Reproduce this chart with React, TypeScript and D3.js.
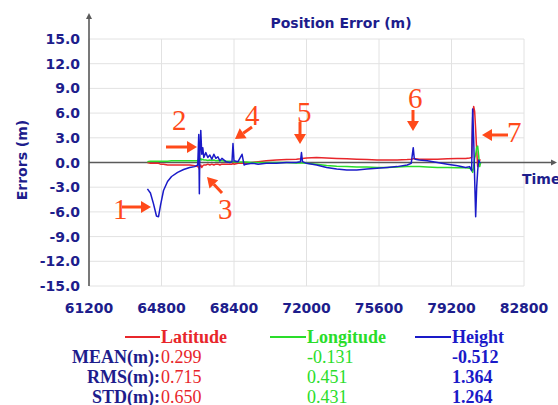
import React from 'react';
import * as d3 from 'd3';

// time of day (s) shared by the three error series
const times = [
  64100, 64250, 64400, 64550, 64650, 64750, 64900, 65100, 65300, 65600,
  65900, 66200, 66450, 66600, 66650, 66680, 66700, 66750, 66800, 66850,
  66900, 67000, 67100, 67200, 67300, 67400, 67500, 67600, 67700, 67800,
  68000, 68200, 68300, 68350, 68400, 68600, 68800, 68900, 69000, 69300,
  69600, 70000, 70500, 71000, 71500, 71700, 71750, 71800, 72000, 72500,
  73000, 73500, 74000, 74500, 75000, 75500, 76000, 76500, 77000, 77200,
  77300, 77350, 77400, 77600, 78000, 78500, 79000, 79500, 79900, 80100,
  80200, 80250, 80300, 80350, 80400, 80450, 80500, 80550, 80600, 80650,
];

const latitude = [
  0.0, -0.1, -0.1, -0.1, -0.1, -0.2, -0.2, -0.3, -0.3, -0.3,
  -0.3, -0.3, -0.4, -0.5, -0.6, -0.8, -0.5, -0.3, -0.6, -0.4,
  -0.3, -0.3, -0.2, -0.3, -0.2, -0.3, -0.2, -0.2, -0.3, -0.2,
  -0.2, -0.2, -0.2, -0.1, -0.2, -0.1, -0.1, -0.1, -0.1, 0.0,
  0.1, 0.2, 0.3, 0.35, 0.4, 0.45, 0.5, 0.5, 0.55, 0.6,
  0.55, 0.5, 0.45, 0.4, 0.35, 0.3, 0.3, 0.3, 0.35, 0.4,
  0.45, 0.45, 0.45, 0.4, 0.4, 0.4, 0.45, 0.5, 0.5, 0.55,
  0.6, 5.5, 6.8, 6.2, 4.0, 1.5, -0.5, 0.2, 0.3, 0.3,
];

const longitude = [
  0.1, 0.15, 0.15, 0.15, 0.15, 0.15, 0.15, 0.15, 0.2, 0.2,
  0.2, 0.2, 0.2, 0.2, 0.4, 0.1, 0.3, 0.5, 0.3, 0.4,
  0.3, 0.3, 0.25, 0.3, 0.25, 0.3, 0.2, 0.25, 0.2, 0.2,
  0.15, 0.15, 0.1, 0.1, 0.1, 0.05, 0.05, 0.05, 0.05, 0.0,
  0.0, 0.0, 0.0, 0.0, -0.05, -0.05, -0.05, -0.05, -0.1, -0.2,
  -0.35, -0.45, -0.5, -0.55, -0.55, -0.6, -0.6, -0.55, -0.5, -0.5,
  -0.5, -0.5, -0.5, -0.5, -0.55, -0.6, -0.6, -0.65, -0.65, -0.7,
  -0.8, -1.2, -0.5, 0.5, 1.0, 1.8, 2.0, 0.8, -0.5, 0.0,
];

const height = [
  -3.2, -3.7, -5.0, -6.5, -6.6, -5.2, -3.4, -2.3, -1.7, -1.2,
  -0.85, -0.6, -0.5, -0.3, 3.4, -3.8, 0.5, 3.9, 1.0, 1.8,
  0.6, 1.2, 0.6, 0.9, 0.4, 1.0, 0.5, 0.7, 0.2, 0.5,
  0.1, 0.0, 0.1, 2.3, 0.2, 0.1, 1.0, -0.3, -0.2, -0.1,
  -0.2, -0.1, -0.1, 0.0, 0.0, 0.1, 1.2, 0.1, -0.1, -0.3,
  -0.6, -0.8, -0.9, -0.9, -0.8, -0.7, -0.6, -0.5, -0.3, -0.1,
  1.8, 0.5, 0.4, 0.3, 0.2, 0.0, -0.2, -0.4, -0.6, -0.5,
  -1.0, 6.5, 3.0, -2.0, -6.6, -3.0, -1.0, 0.3, 0.0, 0.0,
];

const xTicks = [61200, 64800, 68400, 72000, 75600, 79200, 82800];
const yTicks = [15, 12, 9, 6, 3, 0, -3, -6, -9, -12, -15];

const seriesNames = ['Latitude', 'Longitude', 'Height'];
const seriesColors = ['#e8262b', '#2add2a', '#1a1ac8'];
const statNames = ['MEAN(m):', 'RMS(m):', 'STD(m):'];
const statValues = [
  ['0.299', '-0.131', '-0.512'],
  ['0.715', '0.451', '1.364'],
  ['0.650', '0.431', '1.264'],
];

// annotation markers: label, text position, arrow from -> to
const marks = [
  { n: '1', tx: 113, ty: 219, x1: 122, y1: 207, x2: 151, y2: 207 },
  { n: '2', tx: 172, ty: 130, x1: 166, y1: 147, x2: 197, y2: 147 },
  { n: '3', tx: 218, ty: 219, x1: 222, y1: 193, x2: 207, y2: 177 },
  { n: '4', tx: 245, ty: 125, x1: 252, y1: 127, x2: 235, y2: 139 },
  { n: '5', tx: 297, ty: 122, x1: 300, y1: 122, x2: 300, y2: 144 },
  { n: '6', tx: 408, ty: 108, x1: 413, y1: 110, x2: 413, y2: 131 },
  { n: '7', tx: 507, ty: 142, x1: 508, y1: 135, x2: 482, y2: 135 },
];

const NAVY = '#1d1d8c';
const AXIS = '#5a5a5a';
const ANN = '#ff4a1a';
const SANS = 'DejaVu Sans, Verdana, sans-serif';
const SERIF = 'Liberation Serif, Times New Roman, serif';

function Arrow({ x1, y1, x2, y2 }) {
  const a = Math.atan2(y2 - y1, x2 - x1);
  const len = 10;
  const w = 6;
  const bx = x2 - len * Math.cos(a);
  const by = y2 - len * Math.sin(a);
  const px = -Math.sin(a) * w;
  const py = Math.cos(a) * w;
  return (
    <g>
      <line x1={x1} y1={y1} x2={bx} y2={by} stroke={ANN} strokeWidth={3} />
      <polygon points={`${x2},${y2} ${bx + px},${by + py} ${bx - px},${by - py}`} fill={ANN} />
    </g>
  );
}

export default function App() {
  const x = d3.scaleLinear().domain([61200, 82800]).range([89, 524]);
  const y = d3.scaleLinear().domain([-15, 15]).range([286, 39]);

  const line = d3
    .line<number>()
    .x((_, i) => x(times[i]))
    .y((d) => y(d));

  const series = [latitude, longitude, height];
  const legendX = [125, 270, 415];
  const valueX = [161, 307, 452];

  return (
    <svg width={558} height={405} style={{ position: 'absolute', left: 0, top: 0, background: '#fff' }}>
      {/* grid */}
      {yTicks.map((t) => (
        <line key={'gy' + t} x1={x(61200)} x2={x(82800)} y1={y(t)} y2={y(t)} stroke="#e2e2e2" strokeWidth={1} />
      ))}
      {xTicks.map((t) => (
        <line key={'gx' + t} x1={x(t)} x2={x(t)} y1={y(15)} y2={y(-15)} stroke="#e2e2e2" strokeWidth={1} />
      ))}

      {/* axes with arrows */}
      <line x1={x(61200)} x2={x(61200)} y1={y(-15)} y2={16} stroke={AXIS} strokeWidth={1.6} />
      <polygon points={`${x(61200)},13 ${x(61200) - 3},19 ${x(61200) + 3},19`} fill={AXIS} />
      <line x1={x(61200)} x2={553} y1={y(0)} y2={y(0)} stroke={AXIS} strokeWidth={1.6} />
      <polygon points={`557,${y(0)} 551,${y(0) - 3} 551,${y(0) + 3}`} fill={AXIS} />

      {/* tick labels */}
      {yTicks.map((t) => (
        <text key={'ly' + t} x={80} y={y(t) + 5} textAnchor="end" fontFamily={SANS} fontWeight="bold" fontSize={14} fill={NAVY}>
          {t.toFixed(1)}
        </text>
      ))}
      {xTicks.map((t) => (
        <text key={'lx' + t} x={x(t)} y={313} textAnchor="middle" fontFamily={SANS} fontWeight="bold" fontSize={14} fill={NAVY}>
          {t}
        </text>
      ))}

      <text x={341} y={28} textAnchor="middle" fontFamily={SANS} fontWeight="bold" fontSize={14} fill={NAVY}>
        Position Error (m)
      </text>
      <text transform="translate(27,160) rotate(-90)" textAnchor="middle" fontFamily={SANS} fontWeight="bold" fontSize={14} fill={NAVY}>
        Errors (m)
      </text>
      <text x={522} y={184} fontFamily={SANS} fontWeight="bold" fontSize={14} fill={NAVY}>
        Time
      </text>

      {/* series */}
      {series.map((s, i) => (
        <path key={seriesNames[i]} d={line(s) || ''} fill="none" stroke={seriesColors[i]} strokeWidth={1.5} strokeLinejoin="round" />
      ))}

      {/* annotations */}
      {marks.map((m) => (
        <g key={'m' + m.n}>
          <text x={m.tx} y={m.ty} fontFamily={SERIF} fontSize={29} fill={ANN}>
            {m.n}
          </text>
          <Arrow x1={m.x1} y1={m.y1} x2={m.x2} y2={m.y2} />
        </g>
      ))}

      {/* legend */}
      {seriesNames.map((name, i) => (
        <g key={'lg' + name}>
          <line x1={legendX[i]} x2={valueX[i] - 1} y1={337} y2={337} stroke={seriesColors[i]} strokeWidth={2} />
          <text x={valueX[i]} y={343} fontFamily={SERIF} fontWeight="bold" fontSize={18} fill={seriesColors[i]}>
            {name}
          </text>
        </g>
      ))}
      {statNames.map((s, r) => (
        <g key={'st' + s}>
          <text x={160} y={363 + r * 20} textAnchor="end" fontFamily={SERIF} fontWeight="bold" fontSize={18} fill={NAVY}>
            {s}
          </text>
          {statValues[r].map((v, i) => (
            <text key={i} x={valueX[i]} y={363 + r * 20} fontFamily={SERIF} fontSize={18} fontWeight={i === 2 ? 'bold' : 'normal'} fill={seriesColors[i]}>
              {v}
            </text>
          ))}
        </g>
      ))}
    </svg>
  );
}
